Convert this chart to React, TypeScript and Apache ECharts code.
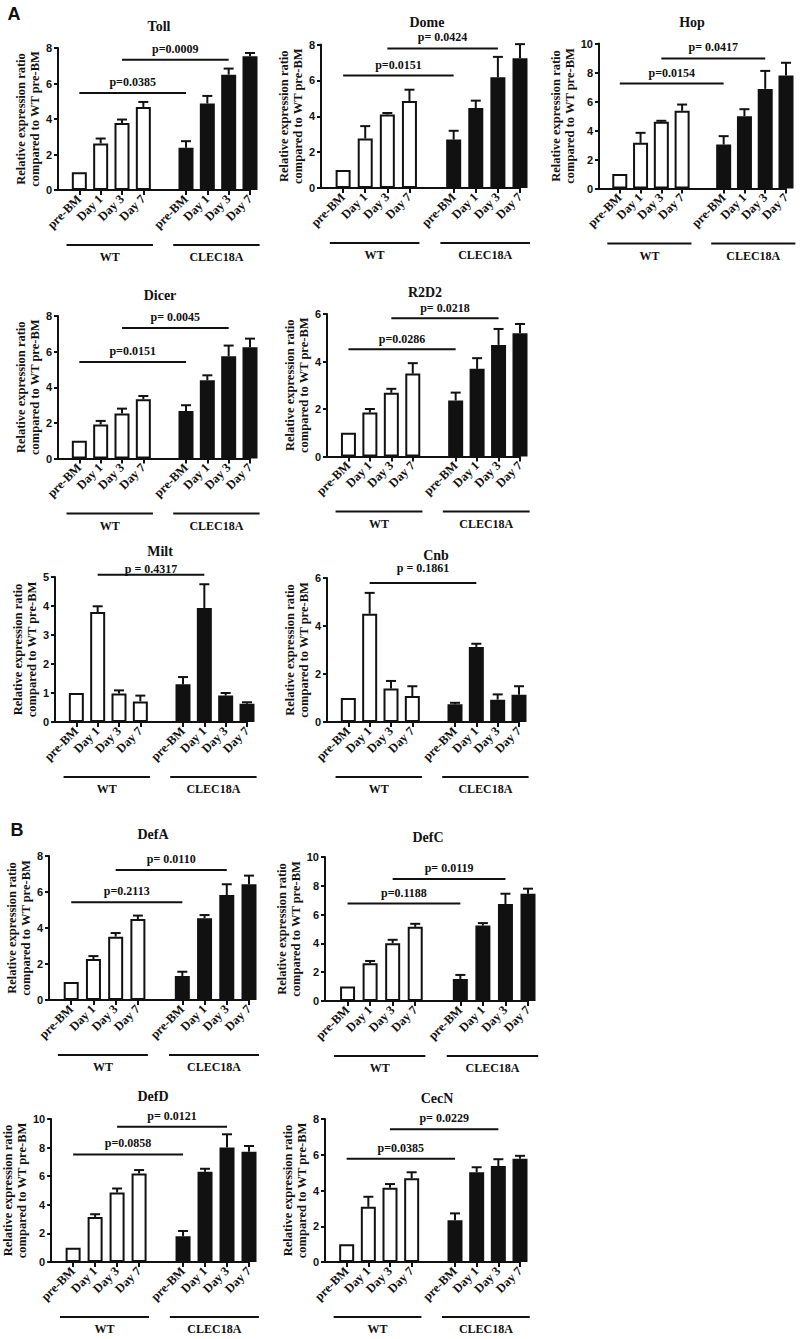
import React, { useEffect, useRef } from "react";
import * as echarts from "echarts";

// ---- categories ----
const DAYS = ["pre-BM", "Day 1", "Day 3", "Day 7"];
const GROUPS = ["WT", "CLEC18A"];
const GENES = ["Toll", "Dome", "Hop", "Dicer", "R2D2", "Milt", "Cnb", "DefA", "DefC", "DefD", "CecN"];
const Y_MAX = [8, 8, 10, 8, 6, 5, 6, 8, 10, 10, 8];
const Y_STEP = [2, 2, 2, 2, 2, 1, 2, 2, 2, 2, 2];
const PANEL_LETTERS = ["A", "B"];

// ---- values (mean, SEM) ----
const TOLL_WT = [1.0, 2.62, 3.78, 4.68];
const TOLL_WT_ERR = [0, 0.28, 0.19, 0.28];
const TOLL_CL = [2.38, 4.87, 6.5, 7.53];
const TOLL_CL_ERR = [0.37, 0.43, 0.34, 0.19];

const DOME_WT = [1.0, 2.76, 4.1, 4.85];
const DOME_WT_ERR = [0, 0.69, 0.08, 0.63];
const DOME_CL = [2.7, 4.46, 6.17, 7.24];
const DOME_CL_ERR = [0.49, 0.41, 1.14, 0.78];

const HOP_WT = [1.0, 3.15, 4.6, 5.36];
const HOP_WT_ERR = [0, 0.69, 0.07, 0.43];
const HOP_CL = [3.03, 4.99, 6.87, 7.79];
const HOP_CL_ERR = [0.58, 0.48, 1.24, 0.88];

const DICER_WT = [1.0, 1.91, 2.52, 3.33];
const DICER_WT_ERR = [0, 0.2, 0.28, 0.18];
const DICER_CL = [2.67, 4.39, 5.74, 6.24];
const DICER_CL_ERR = [0.32, 0.28, 0.6, 0.49];

const R2D2_WT = [1.0, 1.85, 2.68, 3.49];
const R2D2_WT_ERR = [0, 0.15, 0.17, 0.44];
const R2D2_CL = [2.36, 3.69, 4.7, 5.19];
const R2D2_CL_ERR = [0.33, 0.45, 0.67, 0.39];

const MILT_WT = [1.0, 3.79, 0.98, 0.71];
const MILT_WT_ERR = [0, 0.2, 0.11, 0.2];
const MILT_CL = [1.3, 3.93, 0.91, 0.63];
const MILT_CL_ERR = [0.25, 0.82, 0.09, 0.05];

const CNB_WT = [1.0, 4.51, 1.4, 1.08];
const CNB_WT_ERR = [0, 0.87, 0.31, 0.41];
const CNB_CL = [0.74, 3.13, 0.93, 1.14];
const CNB_CL_ERR = [0.06, 0.13, 0.22, 0.35];

const DEFA_WT = [1.0, 2.28, 3.52, 4.5];
const DEFA_WT_ERR = [0, 0.16, 0.2, 0.19];
const DEFA_CL = [1.33, 4.54, 5.83, 6.43];
const DEFA_CL_ERR = [0.24, 0.18, 0.6, 0.48];

const DEFC_WT = [1.0, 2.62, 4.01, 5.15];
const DEFC_WT_ERR = [0, 0.16, 0.24, 0.21];
const DEFC_CL = [1.53, 5.24, 6.73, 7.45];
const DEFC_CL_ERR = [0.28, 0.17, 0.72, 0.35];

const DEFD_WT = [1.0, 3.15, 4.86, 6.19];
const DEFD_WT_ERR = [0, 0.19, 0.28, 0.24];
const DEFD_CL = [1.8, 6.31, 8.01, 7.71];
const DEFD_CL_ERR = [0.37, 0.21, 0.92, 0.4];

const CECN_WT = [1.0, 3.09, 4.16, 4.68];
const CECN_WT_ERR = [0, 0.56, 0.2, 0.34];
const CECN_CL = [2.34, 5.02, 5.37, 5.77];
const CECN_CL_ERR = [0.38, 0.28, 0.38, 0.17];

// ---- significance comparisons (day compared, y level, label) ----
const TOLL_P_DAY = ["pre-BM", "Day 3"];
const TOLL_P_Y = [5.47, 7.34];
const TOLL_P = ["p=0.0385", "p=0.0009"];
const DOME_P_DAY = ["pre-BM", "Day 3"];
const DOME_P_Y = [6.27, 7.78];
const DOME_P = ["p=0.0151", "p= 0.0424"];
const HOP_P_DAY = ["pre-BM", "Day 3"];
const HOP_P_Y = [7.24, 8.97];
const HOP_P = ["p=0.0154", "p= 0.0417"];
const DICER_P_DAY = ["pre-BM", "Day 3"];
const DICER_P_Y = [5.42, 7.33];
const DICER_P = ["p=0.0151", "p= 0.0045"];
const R2D2_P_DAY = ["pre-BM", "Day 3"];
const R2D2_P_Y = [4.52, 5.82];
const R2D2_P = ["p=0.0286", "p= 0.0218"];
const MILT_P_DAY = ["Day 1"];
const MILT_P_Y = [5.08];
const MILT_P = ["p = 0.4317"];
const CNB_P_DAY = ["Day 1"];
const CNB_P_Y = [5.79];
const CNB_P = ["p = 0.1861"];
const DEFA_P_DAY = ["pre-BM", "Day 3"];
const DEFA_P_Y = [5.43, 7.22];
const DEFA_P = ["p=0.2113", "p= 0.0110"];
const DEFC_P_DAY = ["pre-BM", "Day 3"];
const DEFC_P_Y = [6.77, 8.47];
const DEFC_P = ["p=0.1188", "p= 0.0119"];
const DEFD_P_DAY = ["pre-BM", "Day 3"];
const DEFD_P_Y = [7.52, 9.46];
const DEFD_P = ["p=0.0858", "p= 0.0121"];
const CECN_P_DAY = ["pre-BM", "Day 3"];
const CECN_P_Y = [5.77, 7.43];
const CECN_P = ["p=0.0385", "p= 0.0229"];

const WT_MEANS = [TOLL_WT, DOME_WT, HOP_WT, DICER_WT, R2D2_WT, MILT_WT, CNB_WT, DEFA_WT, DEFC_WT, DEFD_WT, CECN_WT];
const WT_ERRS = [TOLL_WT_ERR, DOME_WT_ERR, HOP_WT_ERR, DICER_WT_ERR, R2D2_WT_ERR, MILT_WT_ERR, CNB_WT_ERR, DEFA_WT_ERR, DEFC_WT_ERR, DEFD_WT_ERR, CECN_WT_ERR];
const CL_MEANS = [TOLL_CL, DOME_CL, HOP_CL, DICER_CL, R2D2_CL, MILT_CL, CNB_CL, DEFA_CL, DEFC_CL, DEFD_CL, CECN_CL];
const CL_ERRS = [TOLL_CL_ERR, DOME_CL_ERR, HOP_CL_ERR, DICER_CL_ERR, R2D2_CL_ERR, MILT_CL_ERR, CNB_CL_ERR, DEFA_CL_ERR, DEFC_CL_ERR, DEFD_CL_ERR, CECN_CL_ERR];
const P_DAYS = [TOLL_P_DAY, DOME_P_DAY, HOP_P_DAY, DICER_P_DAY, R2D2_P_DAY, MILT_P_DAY, CNB_P_DAY, DEFA_P_DAY, DEFC_P_DAY, DEFD_P_DAY, CECN_P_DAY];
const P_YS = [TOLL_P_Y, DOME_P_Y, HOP_P_Y, DICER_P_Y, R2D2_P_Y, MILT_P_Y, CNB_P_Y, DEFA_P_Y, DEFC_P_Y, DEFD_P_Y, CECN_P_Y];
const P_TEXTS = [TOLL_P, DOME_P, HOP_P, DICER_P, R2D2_P, MILT_P, CNB_P, DEFA_P, DEFC_P, DEFD_P, CECN_P];

// ---- layout (pixels): y-axis x, last bar centre x, top of axis, zero line, title centre, p-label lift ----
const LAYOUT = [
  { x0: 58, x1: 250, yt: 48, yb: 190, tx: 159, ty: 26, pdy: 11 },
  { x0: 321, x1: 520, yt: 44.5, yb: 188, tx: 427, ty: 22, pdy: 11 },
  { x0: 599, x1: 786, yt: 43.5, yb: 188.5, tx: 692, ty: 22, pdy: 11 },
  { x0: 58, x1: 250, yt: 316, yb: 458.5, tx: 160, ty: 295, pdy: 11 },
  { x0: 327, x1: 520, yt: 314, yb: 456.5, tx: 425, ty: 292, pdy: 10 },
  { x0: 55, x1: 247, yt: 577, yb: 722, tx: 160, ty: 551, pdy: 6 },
  { x0: 327, x1: 519, yt: 578, yb: 722, tx: 436, ty: 555, pdy: 15 },
  { x0: 49, x1: 249, yt: 856, yb: 1000, tx: 153, ty: 834, pdy: 11 },
  { x0: 325, x1: 528, yt: 857, yb: 1001, tx: 428, ty: 837, pdy: 11 },
  { x0: 50, x1: 249, yt: 1119, yb: 1262, tx: 153, ty: 1096, pdy: 11 },
  { x0: 325, x1: 520, yt: 1119, yb: 1262, tx: 437, ty: 1098, pdy: 11 },
];
const LETTER_POS = [
  { x: 14, y: 14 },
  { x: 17, y: 830 },
];

const SERIF = "'Liberation Serif', 'Times New Roman', serif";
const SANS = "'Liberation Sans', Arial, sans-serif";
const INK = "#111";

// slot layout of the category axis: spacer, WT days, spacer, CLEC18A days
const SLOTS = ["", ...DAYS, "", ...DAYS];
const WT_START = 1;
const CL_START = 1 + DAYS.length + 1;

function textStyle(text: string, size: number, family: string) {
  return {
    text,
    fill: INK,
    fontFamily: family,
    fontWeight: "bold",
    fontSize: size,
    align: "center",
    verticalAlign: "middle",
    textAlign: "center",
    textVerticalAlign: "middle",
  };
}

function buildOption() {
  const grid: any[] = [];
  const xAxis: any[] = [];
  const yAxis: any[] = [];
  const series: any[] = [];
  const graphics: any[] = [];

  GENES.forEach((gene, k) => {
    const L = LAYOUT[k];
    grid.push({ left: L.x0, top: L.yt, width: L.x1 - L.x0, height: L.yb - L.yt, containLabel: false });
    xAxis.push({
      type: "category",
      gridIndex: k,
      data: SLOTS,
      boundaryGap: false,
      axisLine: { show: true, lineStyle: { color: INK, width: 2 } },
      axisTick: {
        show: true,
        length: 5,
        lineStyle: { color: INK, width: 2 },
        interval: (_i: number, v: string) => v !== "",
      },
      axisLabel: {
        interval: 0,
        rotate: 45,
        margin: 7,
        color: INK,
        fontFamily: SERIF,
        fontWeight: "bold",
        fontSize: 12.5,
      },
      splitLine: { show: false },
    });
    yAxis.push({
      type: "value",
      gridIndex: k,
      min: 0,
      max: Y_MAX[k],
      interval: Y_STEP[k],
      name: "Relative expression ratio\ncompared to WT pre-BM",
      nameLocation: "middle",
      nameGap: 11,
      nameTextStyle: { color: INK, fontFamily: SERIF, fontWeight: "bold", fontSize: 12.5, lineHeight: 14 },
      axisLine: { show: true, lineStyle: { color: INK, width: 2 } },
      axisTick: { show: true, length: 4, lineStyle: { color: INK, width: 2 } },
      axisLabel: { color: INK, fontFamily: SANS, fontWeight: "bold", fontSize: 11, margin: 6 },
      splitLine: { show: false },
    });

    const wt = WT_MEANS[k];
    const cl = CL_MEANS[k];
    const wtData = SLOTS.map((_, i) => (i >= WT_START && i < WT_START + DAYS.length ? wt[i - WT_START] : null));
    const clData = SLOTS.map((_, i) => (i >= CL_START && i < CL_START + DAYS.length ? cl[i - CL_START] : null));

    series.push({
      type: "bar",
      name: GROUPS[0],
      xAxisIndex: k,
      yAxisIndex: k,
      data: wtData,
      barWidth: 15,
      barGap: "-100%",
      clip: false,
      itemStyle: { color: "#fff", borderColor: INK, borderWidth: 2 },
    });
    series.push({
      type: "bar",
      name: GROUPS[1],
      xAxisIndex: k,
      yAxisIndex: k,
      data: clData,
      barWidth: 15,
      barGap: "-100%",
      clip: false,
      itemStyle: { color: INK, borderColor: INK, borderWidth: 2 },
    });

    // error bars (upper whisker with cap)
    const errData: number[][] = [];
    wt.forEach((m, d) => {
      if (WT_ERRS[k][d] > 0) errData.push([WT_START + d, m, WT_ERRS[k][d]]);
    });
    cl.forEach((m, d) => {
      if (CL_ERRS[k][d] > 0) errData.push([CL_START + d, m, CL_ERRS[k][d]]);
    });
    series.push({
      type: "custom",
      xAxisIndex: k,
      yAxisIndex: k,
      data: errData,
      z: 5,
      renderItem: (_p: any, api: any) => {
        const x = api.value(0);
        const m = api.value(1);
        const e = api.value(2);
        const a = api.coord([x, m]);
        const b = api.coord([x, m + e]);
        return {
          type: "group",
          children: [
            { type: "line", shape: { x1: a[0], y1: a[1], x2: b[0], y2: b[1] }, style: { stroke: INK, lineWidth: 2 } },
            { type: "line", shape: { x1: b[0] - 5, y1: b[1], x2: b[0] + 5, y2: b[1] }, style: { stroke: INK, lineWidth: 2 } },
          ],
        };
      },
    });

    // significance lines
    const pDays = P_DAYS[k];
    const pTexts = P_TEXTS[k];
    const sigData = pDays.map((day, j) => {
      const d = DAYS.indexOf(day);
      return [WT_START + d, CL_START + d, P_YS[k][j]];
    });
    series.push({
      type: "custom",
      xAxisIndex: k,
      yAxisIndex: k,
      data: sigData,
      z: 6,
      renderItem: (params: any, api: any) => {
        const a = api.coord([api.value(0), api.value(2)]);
        const b = api.coord([api.value(1), api.value(2)]);
        return {
          type: "group",
          children: [
            { type: "line", shape: { x1: a[0], y1: a[1], x2: b[0], y2: b[1] }, style: { stroke: INK, lineWidth: 2 } },
            {
              type: "text",
              x: (a[0] + b[0]) / 2,
              y: a[1] - L.pdy,
              style: textStyle(pTexts[params.dataIndex], 12, SERIF),
            },
          ],
        };
      },
    });

    // group brackets under the axis
    const groupData = [
      [WT_START, WT_START + DAYS.length - 1],
      [CL_START, CL_START + DAYS.length - 1],
    ];
    series.push({
      type: "custom",
      xAxisIndex: k,
      yAxisIndex: k,
      data: groupData,
      z: 6,
      renderItem: (params: any, api: any) => {
        const a = api.coord([api.value(0), 0]);
        const b = api.coord([api.value(1), 0]);
        const u = api.coord([api.value(0) + 1, 0])[0] - a[0];
        const y = a[1] + 55;
        const xa = a[0] - 0.6 * u;
        const xb = b[0] + 0.45 * u;
        return {
          type: "group",
          children: [
            { type: "line", shape: { x1: xa, y1: y, x2: xb, y2: y }, style: { stroke: INK, lineWidth: 2 } },
            {
              type: "text",
              x: (xa + xb) / 2,
              y: y + 12,
              style: textStyle(GROUPS[params.dataIndex], 12, SERIF),
            },
          ],
        };
      },
    });

    graphics.push({
      type: "text",
      x: L.tx,
      y: L.ty,
      style: textStyle(gene, 14, SERIF),
    });
  });

  PANEL_LETTERS.forEach((letter, i) => {
    graphics.push({
      type: "text",
      x: LETTER_POS[i].x,
      y: LETTER_POS[i].y,
      style: textStyle(letter, 18, SANS),
    });
  });

  return {
    animation: false,
    backgroundColor: "#ffffff",
    grid,
    xAxis,
    yAxis,
    series,
    graphic: { elements: graphics },
  };
}

export default function App() {
  const ref = useRef<HTMLDivElement>(null);
  useEffect(() => {
    if (!ref.current) return;
    const chart = echarts.init(ref.current, undefined, { renderer: "svg" });
    chart.setOption(buildOption() as any);
    return () => chart.dispose();
  }, []);
  return <div ref={ref} style={{ position: "absolute", left: 0, top: 0, width: 811, height: 1339 }} />;
}
